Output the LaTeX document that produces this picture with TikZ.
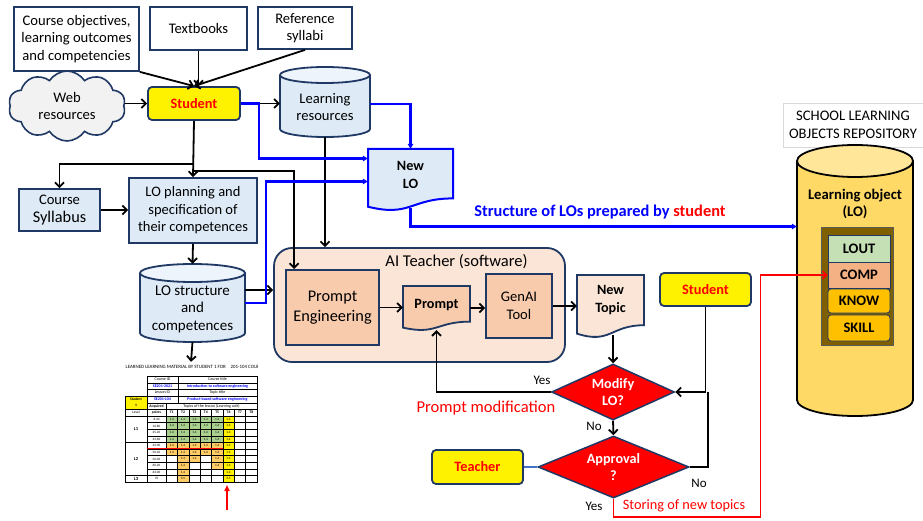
\documentclass[tikz,border=0pt]{standalone}
\usepackage{fontspec}
\setmainfont{Carlito}
\usetikzlibrary{shapes.geometric,shapes.symbols,arrows.meta,calc}

\definecolor{navy}{HTML}{1F3864}
\definecolor{paleblue}{HTML}{DEEBF7}
\definecolor{peach}{HTML}{FBE5D6}
\definecolor{apricot}{HTML}{F8CBAD}
\definecolor{cloudgray}{HTML}{F2F2F2}
\definecolor{gold}{HTML}{FFD966}
\definecolor{goldtop}{HTML}{FFE699}
\definecolor{brownbox}{HTML}{7F6000}
\definecolor{loutgreen}{HTML}{C5E0B4}
\definecolor{compsalmon}{HTML}{F4B183}
\definecolor{amber}{HTML}{FFC000}
\definecolor{pureblue}{HTML}{0000FF}
\definecolor{linkblue}{HTML}{4472C4}
\definecolor{cellgreen}{HTML}{A9D08E}
\definecolor{cellorange}{HTML}{FFCC66}

\newcommand\setfs[2]{\fontsize{#1}{#2}\selectfont}

% database drum: x1 y1 x2 y2 ry bodyfill topfill border
\newcommand\dbdrum[8]{%
  \filldraw[draw=#8, line width=1.8pt, fill=#6] ({(#1+#3)/2},{#4-#5}) ellipse[x radius={(#3-#1)/2}, y radius=#5];
  \fill[#6] (#1,{#2+#5}) rectangle (#3,{#4-#5});
  \draw[#8, line width=1.8pt] (#1,{#2+#5}) -- (#1,{#4-#5}) (#3,{#2+#5}) -- (#3,{#4-#5});
  \filldraw[draw=#8, line width=1.8pt, fill=#7] ({(#1+#3)/2},{#2+#5}) ellipse[x radius={(#3-#1)/2}, y radius=#5];}

% document sheet with wavy lower edge: style x1 y1 x2 y2
\newcommand\paperdoc[5]{%
  \path[#1] (#2,#3) -- (#4,#3) -- (#4,{#3+0.81*(#5-#3)})
    .. controls ({(#2+#4)/2},{#3+0.81*(#5-#3)}) and ({(#2+#4)/2},{#3+1.12*(#5-#3)}) .. (#2,{#3+0.946*(#5-#3)}) -- cycle;}

% spreadsheet cell: row col fill value
\newcommand\tcell[4]{%
  \fill[#3] ({166+11.375*(#2-1)},{416+6.6*#1}) rectangle ++(11.375,6.6);
  \node[tabtxt] (cell-#1-#2) at ({166+11.375*(#2-0.5)},{416+6.6*(#1+0.5)}) {#4};}

\tikzset{
  base/.style={inner sep=0pt, align=center, font=\setfs{14.6}{17.5}},
  plainbox/.style={base, draw=navy, line width=1.8pt, fill=white},
  bluebox/.style={plainbox, fill=paleblue},
  orangebox/.style={plainbox, fill=apricot},
  actor/.style={base, draw=navy, line width=1.8pt, fill=yellow, rounded corners=4pt, text=red, font=\setfs{14.3}{17}\bfseries},
  decision/.style={base, diamond, draw=navy, line width=1.5pt, fill=red, text=white, font=\setfs{14.2}{17.5}\bfseries},
  area/.style={base, draw=none},
  txt/.style={base},
  stack/.style={base, draw=navy, line width=0.8pt, minimum width=62pt, font=\setfs{14.5}{17}\bfseries},
  docblue/.style={draw=pureblue, line width=2pt, fill=paleblue},
  docpeach/.style={draw=navy, line width=1.8pt, fill=#1},
  arr/.style={line width=1.8pt, -{Straight Barb[length=4.5pt,width=9pt]}},
  plain/.style={line width=1.8pt},
  bluearr/.style={draw=pureblue, line width=2.2pt, -{Triangle[length=5pt,width=5.5pt]}},
  redarr/.style={draw=red, line width=1.5pt, -{Straight Barb[length=4pt,width=8pt]}},
  tabtxt/.style={inner sep=0pt, align=center, font=\setfs{3.3}{3.7}},
  tabbold/.style={tabtxt, font=\setfs{3.3}{3.7}\bfseries},
  tabhead/.style={tabtxt, font=\setfs{4}{4.5}},
  tabblue/.style={tabtxt, font=\setfs{4}{4.5}\bfseries, text=pureblue},
}

\begin{document}
\begin{tikzpicture}[x=1pt,y=-1pt]
\fill[white] (0,0) rectangle (923,521);
\useasboundingbox (0,0) rectangle (923,521);

% ---------- sources ----------
\node[plainbox, minimum width=125pt, minimum height=64pt] (cobj) at (76.5,39) {Course objectives,\\learning outcomes\\and competencies};
\node[plainbox, minimum width=97pt, minimum height=43pt] (tbook) at (198.5,28.5) {Textbooks};
\node[plainbox, minimum width=94pt, minimum height=42pt] (refsyl) at (305,28) {Reference\\syllabi};
\node[base, cloud, cloud puffs=10, cloud puff arc=115, aspect=1.7, draw=navy, line width=1.6pt, fill=cloudgray, minimum width=117pt, minimum height=70pt] (web) at (67,106) {Web\\resources};
\node[actor, minimum width=92pt, minimum height=33pt] (student) at (194,103.5) {Student};

% learning resources
\dbdrum{280}{67}{370}{137}{8}{paleblue}{paleblue!55!white}{navy}
\node[area, minimum width=90pt, minimum height=70pt] (lres) at (325,102) {};
\node[txt] (lres-t) at (325,107) {Learning\\resources};

% new learning object
\paperdoc{docblue}{368}{149}{453}{210}
\node[area, minimum width=85pt, minimum height=61pt] (newlo) at (410.5,179.5) {};
\node[txt, font=\setfs{14.2}{18}\bfseries] (newlo-t) at (410.5,175) {New\\LO};

% planning
\node[bluebox, minimum width=81pt, minimum height=42pt] (syl) at (59.5,210) {Course\\{\setfs{16.3}{19}Syllabus}};
\node[bluebox, minimum width=128pt, minimum height=65pt, font=\setfs{14.5}{17.5}] (lop) at (193,210.5) {LO planning and\\specification of\\their competences};

\dbdrum{140}{264}{245}{342}{9}{paleblue}{paleblue!55!white}{navy}
\node[area, minimum width=105pt, minimum height=78pt] (los) at (192.5,303) {};
\node[txt, font=\setfs{15}{17.5}] (los-t) at (192.5,309) {LO structure\\and\\competences};

% ---------- AI teacher ----------
\node[base, draw=navy, line width=1.8pt, fill=peach, rounded corners=18pt, minimum width=291pt, minimum height=114pt] (ait) at (419.5,305) {};
\node[txt, font=\setfs{16.5}{19}] (ait-t) at (456.5,262) {AI Teacher (software)};
\node[orangebox, minimum width=93pt, minimum height=75pt, font=\setfs{16.3}{19.5}] (pe) at (332.5,307.5) {Prompt\\Engineering};
\paperdoc{docpeach=apricot}{403}{286}{470}{330}
\node[area, minimum width=67pt, minimum height=44pt] (prompt) at (436.5,308) {};
\node[txt, font=\setfs{14.2}{17}\bfseries] (prompt-t) at (436.5,305) {Prompt};
\node[orangebox, minimum width=66pt, minimum height=64pt] (genai) at (519,306) {GenAI\\Tool};

\paperdoc{docpeach=peach}{577}{275}{644}{337}
\node[area, minimum width=67pt, minimum height=62pt] (ntop) at (610.5,306) {};
\node[txt, font=\setfs{14.2}{18}\bfseries] (ntop-t) at (610.5,300) {New\\Topic};

% ---------- review loop ----------
\node[actor, minimum width=91pt, minimum height=33pt] (student2) at (705.5,289.5) {Student};
\node[decision, aspect=2.2, minimum width=123pt, minimum height=56pt] (modify) at (613,392) {Modify\\LO?};
\node[decision, aspect=2.4, minimum width=151pt, minimum height=62pt] (approval) at (613.5,467) {Approval\\?};
\node[actor, minimum width=91pt, minimum height=34pt] (teacher) at (477.5,467) {Teacher};

% ---------- repository ----------
\node[base, draw=black!15, line width=0.8pt, fill=white, minimum width=140pt, minimum height=44pt, font=\setfs{14.6}{17.5}] (repo-title) at (853,125) {SCHOOL LEARNING\\OBJECTS REPOSITORY};
\dbdrum{797}{145}{913}{416}{16}{gold}{goldtop}{black}
\node[area, minimum width=116pt, minimum height=271pt] (repo) at (855,280.5) {};
\node[txt, font=\setfs{14.7}{17.5}\bfseries] (repo-t) at (855,204) {Learning object\\(LO)};
\node[base, draw=black!65, line width=1pt, fill=brownbox, minimum width=72pt, minimum height=117pt] (lobox) at (857,286.5) {};
\node[stack, fill=loutgreen, minimum height=27pt] (lout) at (859,248.5) {LOUT};
\node[stack, fill=compsalmon, minimum height=26pt] (comp) at (859,275) {COMP};
\node[stack, fill=amber, rounded corners=3pt, minimum height=24pt] (know) at (859,301) {KNOW};
\node[stack, fill=amber, rounded corners=3pt, minimum height=26pt] (skill) at (859,328) {SKILL};

% ---------- learning material sheet ----------
\node[area, minimum width=132pt, minimum height=121pt] (tbl) at (191,422.5) {};
\begin{scope}
  \clip (125,362) rectangle (257.5,372);
  \node[tabtxt, anchor=west, font=\setfs{4.9}{5.5}] (tbl-title) at (125.5,367) {LEARNED LEARNING MATERIAL BY STUDENT 1 FOR\quad 201-104 COURSE};
\end{scope}
\begin{scope}[line width=0.3pt]
  \draw[line width=0.5pt] (147,376) rectangle (257,403);
  \foreach \yy in {383,389.5,396} \draw (147,\yy) -- (257,\yy);
  \draw (178,376) -- (178,403);
  \node[tabhead] (tb-cid) at (162.5,379.5) {Course ID};
  \node[tabhead] (tb-ctitle) at (217.5,379.5) {Course title};
  \node[tabblue] (tb-cidv) at (162.5,386.2) {SE201-2021};
  \node[tabblue] (tb-ctitlev) at (217.5,386.2) {Introduction to software engineering};
  \node[tabhead] (tb-lid) at (162.5,392.7) {Lesson ID};
  \node[tabhead] (tb-ttitle) at (217.5,392.7) {Topic title};
  \node[tabblue] (tb-lidv) at (162.5,399.5) {SE201-L04};
  \node[tabblue] (tb-ttitlev) at (217.5,399.5) {Product-based software engineering};
  \filldraw[fill=yellow, line width=0.5pt] (125,396) rectangle (147,409);
  \node[tabbold, font=\setfs{3.6}{6}\bfseries] (tb-stu) at (136,402.5) {Student\\1};
  \draw (147,403) rectangle (166,409);
  \draw[line width=0.6pt] (166,403) rectangle (257,409);
  \node[tabbold, font=\setfs{3.8}{4.3}\bfseries] (tb-acq) at (156.5,406) {Acquired};
  \node[tabhead] (tb-topics) at (211.5,406) {Topics of the lesson (Learning unit)};
  \draw (125,409) rectangle (257,416);
  \node[tabhead, font=\setfs{3.6}{4}] (tb-level) at (136,412.5) {Level};
  \node[tabbold, font=\setfs{3.6}{4}\bfseries] (tb-points) at (156.5,412.5) {points};
  \foreach \c in {1,...,8} \node[tabbold, font=\setfs{3.8}{4.3}\bfseries] (tb-T\c) at ({166+11.375*(\c-0.5)},412.5) {T\c};
  % cell fills
  \foreach \r in {0,...,3}{\foreach \c in {1,...,5}{\tcell{\r}{\c}{cellgreen}{1.4}}}
  \foreach \r in {4,5}{\foreach \c in {1,...,5}{\tcell{\r}{\c}{cellorange}{1.4}}}
  \foreach \c in {2,3,5}{\tcell{6}{\c}{cellorange}{1.4}}
  \foreach \c in {2,5}{\tcell{7}{\c}{cellorange}{1.4}}
  \tcell{8}{2}{cellorange}{1.4}
  \tcell{9}{2}{cellorange}{3.5}
  \foreach \r in {0,...,8}{\tcell{\r}{6}{yellow}{1.4}}
  \tcell{9}{6}{yellow}{3.5}
  % grid
  \foreach \i in {0,...,10} \draw (147,{416+6.6*\i}) -- (257,{416+6.6*\i});
  \foreach \c in {0,...,8} \draw ({166+11.375*\c},409) -- ({166+11.375*\c},482);
  \draw (147,409) -- (147,482);
  \draw[line width=0.8pt] (125,409) rectangle (257,482);
  \draw[line width=0.8pt] (125,442.4) -- (257,442.4) (125,475.4) -- (257,475.4);
  \node[tabbold, font=\setfs{4.6}{5}\bfseries] (tb-L1) at (136,429.2) {L1};
  \node[tabbold, font=\setfs{4.6}{5}\bfseries] (tb-L2) at (136,458.9) {L2};
  \node[tabbold, font=\setfs{4.6}{5}\bfseries] (tb-L3) at (136,478.7) {L3};
  \foreach \v [count=\i from 0] in {8.40,16.80,25.20,33.60,42.00,50.40,56.00,60.20,63.00,70}
    \node[tabtxt] (pts-\i) at (156.5,{416+6.6*(\i+0.5)}) {\v};
  \draw[red, line width=0.6pt] (147,448.5) -- (223,448.5);
\end{scope}
\coordinate (redtail) at (227,510);
\coordinate (t6mark) at (227,485);
\draw[red, line width=1.5pt, -{Triangle[length=6pt,width=5pt]}] (redtail) -- (t6mark);

% ---------- connectors ----------
\draw[arr] (cobj.south east) -- (student.north);
\draw[arr] (tbook.south) -- (tbook.south |- student.north);
\draw[arr] (refsyl.south) -- (student.north);
\draw[arr] (web.east |- student.west) -- (student.west);
\draw[arr] (student.east) -- (student.east -| lres.west);
\draw[arr] (student.south) -- (lop.north);
\draw[arr] ($(student.south)+(0,43)$) -| (syl.north);
\draw[arr] ($(student.south)+(0,50)$) -| ($(pe.north west)+(9,0)$);
\draw[arr] (lres.south) -- (lres.south |- ait.north);
\draw[arr] (syl.east) -- (syl.east -| lop.west);
\draw[arr] (lop.south) -- (los.north);
\draw[arr] (los.south) -- (tbl.north);
\coordinate (losout) at ([yshift=13pt]los.east);
\draw[arr] (losout) -- (losout -| ait.west);

\draw[bluearr] (student.east) -- ++(18,0) |- ([yshift=21pt]newlo.west);
\draw[bluearr] ([yshift=-2pt]lres.east) -| (newlo.north);
\draw[bluearr] (los.east) -- ++(21,0) |- ([yshift=-2pt]newlo.west);
\draw[bluearr] ([yshift=2pt]newlo.south) |- ([yshift=54pt]repo.west);
\node[txt, font=\setfs{16.4}{19}\bfseries, text=pureblue] (struct-lbl) at (600,212) {Structure of LOs prepared by \textcolor{red}{student}};

\draw[arr] (pe.east) -- (pe.east -| prompt.west);
\draw[arr] (prompt.east) -- (prompt.east -| genai.west);
\draw[arr] (genai.east) -- (genai.east -| ntop.west);
\coordinate (ntopout) at ([yshift=2pt]ntop.south);
\draw[arr] (ntopout -| modify.north) -- (modify.north);
\draw[arr] (modify.west) -| (prompt.south);
\draw[arr] (student2.south) |- (modify.east);
\draw[plain] (approval.east) -| ([xshift=33pt]modify.east);
\draw[arr] (modify.south) -- (approval.north);
\draw[linkblue, line width=1.5pt] (teacher.east) -- (approval.west);
\draw[redarr] (approval.south) -- ++(0,18) -- ++(147,0) |- (comp.west);

% ---------- labels ----------
\node[txt, font=\setfs{13}{15}] (yes1) at (542,380) {Yes};
\node[txt, font=\setfs{16.6}{19}, text=red] (pmod) at (486,408) {Prompt modification};
\node[txt, font=\setfs{13}{15}] (no1) at (594,426) {No};
\node[txt, font=\setfs{13}{15}] (no2) at (699,483) {No};
\node[txt, font=\setfs{13}{15}] (yes2) at (594,506) {Yes};
\node[txt, font=\setfs{14.3}{17}, text=red] (store) at (684,506) {Storing of new topics};
\end{tikzpicture}
\end{document}
